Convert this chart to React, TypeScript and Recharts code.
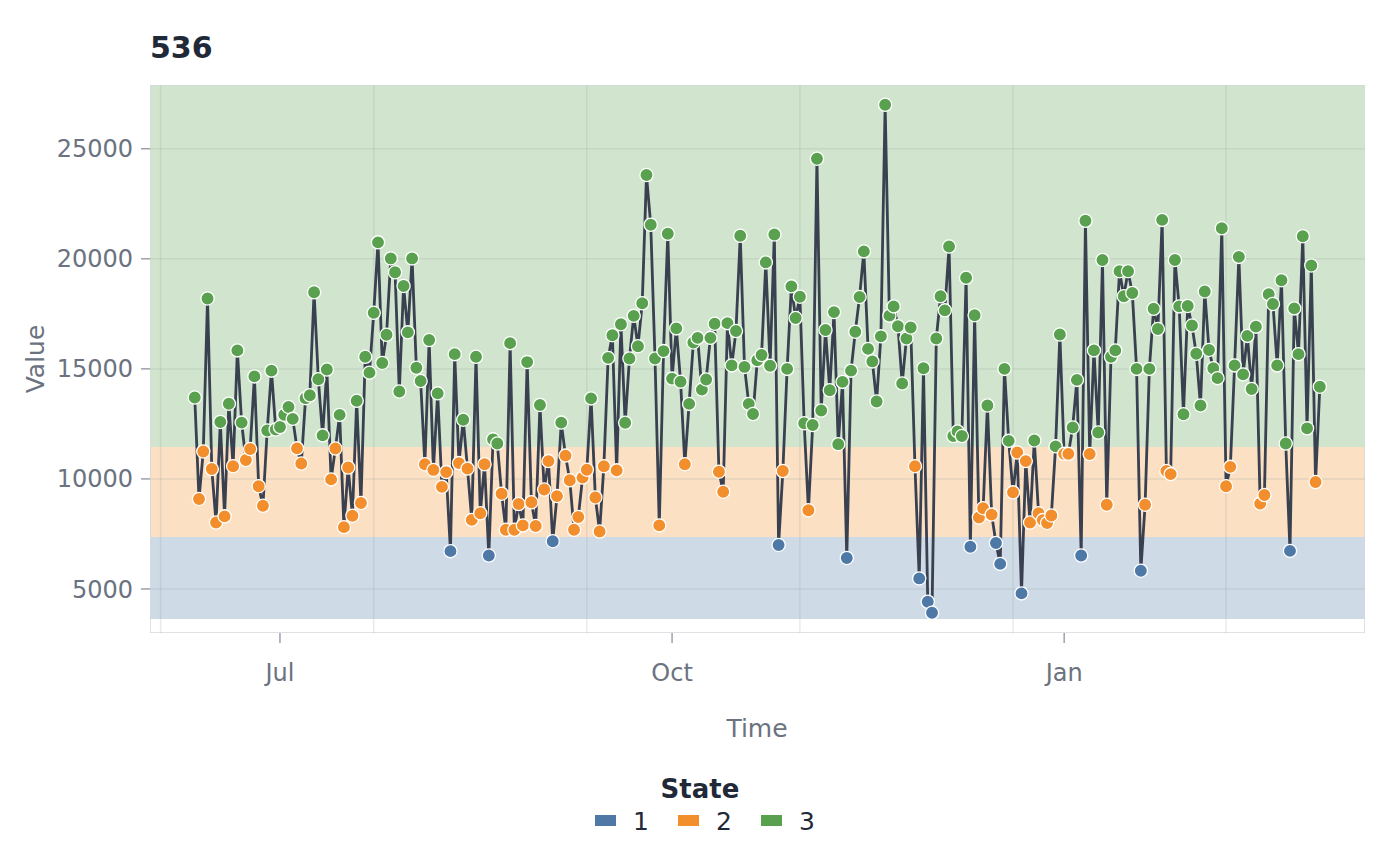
import React from 'react'
import {
  ComposedChart,
  Line,
  XAxis,
  YAxis,
  ReferenceArea,
  ReferenceLine,
} from 'recharts'

/* ================================
   Data (daily, starting 11 Jun)
================================ */
const START_DAY = -20 // days relative to 1 Jul

const values = [
  13700, 9090, 11250, 18200, 10450, 8020, 12590, 8300, 13420, 10580,
  15840, 12560, 10860, 11360, 14660, 9670, 8780, 12200, 14920, 12250,
  12360, 12920, 13270, 12730, 11390, 10700, 13670, 13800, 18480, 14530,
  11980, 14970, 9980, 11380, 12910, 7810, 10520, 8330, 13550, 8910,
  15550, 14830, 17550, 20750, 15270, 16550, 20020, 19390, 13970, 18770,
  16660, 20020, 15050, 14450, 10670, 16310, 10410, 13890, 9640, 10310,
  6720, 15670, 10720, 12690, 10470, 8140, 15550, 8440, 10670, 6520,
  11800, 11610, 9330, 7690, 16170, 7690, 8860, 7890, 15310, 8940,
  7860, 13360, 9520, 10810, 7170, 9220, 12560, 11060, 9940, 7690,
  8270, 10060, 10420, 13660, 9160, 7610, 10580, 15500, 16530, 10390,
  17030, 12550, 15470, 17410, 16030, 17980, 23810, 21550, 15470, 7890,
  15810, 21140, 14560, 16840, 14420, 10670, 13410, 16200, 16410, 14060,
  14520, 16410, 17050, 10330, 9420, 17080, 15160, 16720, 21050, 15090,
  13410, 12950, 15390, 15630, 19840, 15140, 21110, 7000, 10360, 15000,
  18750, 17310, 18280, 12530, 8580, 12450, 24550, 13110, 16770, 14030,
  17580, 11580, 14410, 6410, 14920, 16690, 18270, 20340, 15910, 15340,
  13520, 16480, 27000, 17420, 17840, 16940, 14340, 16380, 16880, 10580,
  5480, 15030, 4420, 3920, 16380, 18300, 17660, 20560, 11950, 12160,
  11950, 19140, 6920, 17440, 8250, 8670, 13340, 8380, 7090, 6140,
  15000, 11730, 9390, 11200, 4800, 10810, 8020, 11750, 8440, 8130,
  8000, 8340, 11480, 16560, 11140, 11140, 12340, 14500, 6520, 21730,
  11130, 15840, 12110, 19950, 8830, 15550, 15840, 19440, 18300, 19440,
  18450, 15000, 5830, 8830, 15000, 17730, 16810, 21770, 10360, 10220,
  19950, 17840, 12940, 17860, 16970, 15690, 13340, 18520, 15860, 15030,
  14580, 21390, 9670, 10550, 15160, 20090, 14750, 16500, 14090, 16920,
  8880, 9270, 18390, 17950, 15160, 19030, 11610, 6730, 17750, 15670,
  21030, 12300, 19700, 9860, 14190,
]

const states = [
  3, 2, 2, 3, 2, 2, 3, 2, 3, 2,
  3, 3, 2, 2, 3, 2, 2, 3, 3, 3,
  3, 3, 3, 3, 2, 2, 3, 3, 3, 3,
  3, 3, 2, 2, 3, 2, 2, 2, 3, 2,
  3, 3, 3, 3, 3, 3, 3, 3, 3, 3,
  3, 3, 3, 3, 2, 3, 2, 3, 2, 2,
  1, 3, 2, 3, 2, 2, 3, 2, 2, 1,
  3, 3, 2, 2, 3, 2, 2, 2, 3, 2,
  2, 3, 2, 2, 1, 2, 3, 2, 2, 2,
  2, 2, 2, 3, 2, 2, 2, 3, 3, 2,
  3, 3, 3, 3, 3, 3, 3, 3, 3, 2,
  3, 3, 3, 3, 3, 2, 3, 3, 3, 3,
  3, 3, 3, 2, 2, 3, 3, 3, 3, 3,
  3, 3, 3, 3, 3, 3, 3, 1, 2, 3,
  3, 3, 3, 3, 2, 3, 3, 3, 3, 3,
  3, 3, 3, 1, 3, 3, 3, 3, 3, 3,
  3, 3, 3, 3, 3, 3, 3, 3, 3, 2,
  1, 3, 1, 1, 3, 3, 3, 3, 3, 3,
  3, 3, 1, 3, 2, 2, 3, 2, 1, 1,
  3, 3, 2, 2, 1, 2, 2, 3, 2, 2,
  2, 2, 3, 3, 2, 2, 3, 3, 1, 3,
  2, 3, 3, 3, 2, 3, 3, 3, 3, 3,
  3, 3, 1, 2, 3, 3, 3, 3, 2, 2,
  3, 3, 3, 3, 3, 3, 3, 3, 3, 3,
  3, 3, 2, 2, 3, 3, 3, 3, 3, 3,
  2, 2, 3, 3, 3, 3, 3, 1, 3, 3,
  3, 3, 3, 2, 3,
]

const monthTicks = [0, 92, 184]
const monthLabels = ['Jul', 'Oct', 'Jan']
const valueTicks = [5000, 10000, 15000, 20000, 25000]
const dayGrid = [-28, 22, 72, 122, 172, 222]

// state bands: [lower, upper]
const bandLimits = [
  [3636, 7364],
  [7364, 11454],
  [11454, 27900],
]

const COLORS: Record<number, string> = {
  1: '#4e79a7',
  2: '#f28e2b',
  3: '#59a14f',
}

const data = values.map((v, i) => ({
  day: START_DAY + i,
  value: v,
  state: states[i],
}))

const FONT = '"DejaVu Sans", sans-serif'
const GREY = '#6b7280'
const DARK = '#1f2937'

const renderDot = (p: any) => (
  <circle
    key={`dot-${p.index}`}
    cx={p.cx}
    cy={p.cy}
    r={6.6}
    fill={COLORS[p.payload.state]}
    stroke="#ffffff"
    strokeWidth={1.3}
  />
)

export default function App() {
  return (
    <div style={{ position: 'relative', width: 1384, height: 850, fontFamily: FONT }}>
      <ComposedChart
        width={1384}
        height={850}
        data={data}
        margin={{ top: 77, right: 27, left: 0, bottom: 165 }}
      >
        {bandLimits.map((b, i) => (
          <ReferenceArea
            key={`band-${i}`}
            y1={b[0]}
            y2={b[1]}
            x1={-30.5}
            x2={254.6}
            fill={COLORS[i + 1]}
            fillOpacity={0.28}
            stroke="none"
            ifOverflow="hidden"
          />
        ))}

        {valueTicks.map((v) => (
          <ReferenceLine key={`h-${v}`} y={v} stroke="#9aa3a0" strokeOpacity={0.22} strokeWidth={1.5} />
        ))}
        {dayGrid.map((d) => (
          <ReferenceLine key={`v-${d}`} x={d} stroke="#9aa3a0" strokeOpacity={0.22} strokeWidth={1.5} />
        ))}

        <ReferenceArea
          x1={-30.5}
          x2={254.6}
          y1={3000}
          y2={27900}
          fill="none"
          stroke="#d5d8dc"
          strokeWidth={1.5}
          ifOverflow="hidden"
        />

        <XAxis
          type="number"
          dataKey="day"
          domain={[-30.5, 254.6]}
          ticks={monthTicks}
          interval={0}
          allowDataOverflow
          tickFormatter={(v) => monthLabels[monthTicks.indexOf(v)]}
          tick={{ fill: GREY, fontSize: 24, fontFamily: FONT }}
          tickLine={{ stroke: GREY }}
          tickSize={10}
          tickMargin={21}
          axisLine={false}
          height={60}
        />

        <YAxis
          type="number"
          domain={[3000, 27900]}
          ticks={valueTicks}
          interval={0}
          allowDataOverflow
          tick={{ fill: GREY, fontSize: 24, fontFamily: FONT }}
          tickLine={{ stroke: GREY }}
          tickSize={9}
          tickMargin={8}
          axisLine={false}
          width={142}
        />

        <Line
          type="linear"
          dataKey="value"
          stroke="#394050"
          strokeWidth={2.8}
          dot={renderDot}
          activeDot={false}
          isAnimationActive={false}
        />
      </ComposedChart>

      <svg
        width={1384}
        height={850}
        style={{ position: 'absolute', left: 0, top: 0, pointerEvents: 'none' }}
        fontFamily={FONT}
      >
        <text x={142} y={50} fontSize={30} fontWeight="bold" fill={DARK}>
          536
        </text>
        <text
          x={36}
          y={351}
          fontSize={25}
          fill={GREY}
          textAnchor="middle"
          transform="rotate(-90 36 351)"
        >
          Value
        </text>
        <text x={749} y={729} fontSize={25} fill={GREY} textAnchor="middle">
          Time
        </text>

        <text x={692} y={790} fontSize={26} fontWeight="bold" fill={DARK} textAnchor="middle">
          State
        </text>
        {[1, 2, 3].map((s, i) => (
          <g key={`leg-${s}`}>
            <rect x={587 + i * 83} y={807} width={21} height={11} fill={COLORS[s]} />
            <text x={625 + i * 83} y={822} fontSize={25} fill={DARK}>
              {s}
            </text>
          </g>
        ))}
      </svg>
    </div>
  )
}
